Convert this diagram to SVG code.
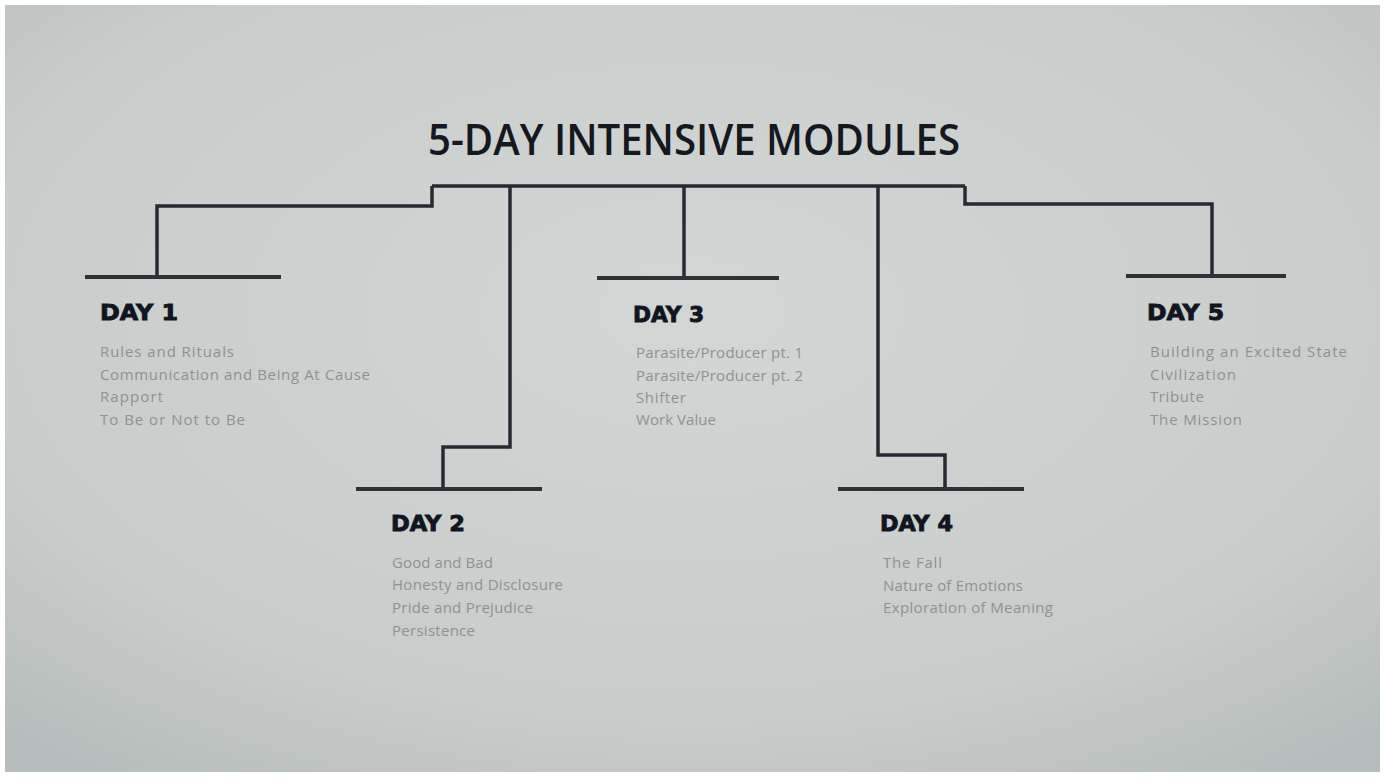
<svg xmlns="http://www.w3.org/2000/svg" width="1384" height="778" viewBox="0 0 1384 778">
<defs>
<radialGradient id="bg" cx="0.5" cy="0.4" r="0.75">
<stop offset="0" stop-color="#d2d6d4"/>
<stop offset="0.7" stop-color="#c8cdcb"/>
<stop offset="1" stop-color="#b6bcbb"/>
</radialGradient>
<style>
.ln{fill:none;stroke:#262a33;stroke-width:3.5;stroke-linejoin:miter;stroke-linecap:butt}
.bar{stroke:#2e3236;stroke-width:4}
.day{font-family:"DejaVu Sans","Liberation Sans",sans-serif;font-weight:900;font-size:22px;fill:#111522;stroke:#111522;stroke-width:0.9}
.it{font-family:"Open Sans","Noto Sans",sans-serif;font-size:15px;fill:#8d9294}
.title{font-family:"Open Sans","Noto Sans",sans-serif;font-weight:600;font-size:44px;fill:#15181f}
</style>
</defs>
<rect width="1384" height="778" fill="#ffffff"/>
<rect x="5" y="5" width="1375" height="767" fill="url(#bg)"/>
<text class="title" x="428" y="155" textLength="532" lengthAdjust="spacingAndGlyphs">5-DAY INTENSIVE MODULES</text>
<g id="connectors">
<path class="ln" d="M432,186 H965"/>
<path class="ln" d="M432,186 V206 H157 V276"/>
<path class="ln" d="M510,186 V447 H443 V489"/>
<path class="ln" d="M684,186 V278"/>
<path class="ln" d="M878,186 V455 H945 V489"/>
<path class="ln" d="M965,186 V204 H1212 V275"/>
</g>
<g id="day1">
<line class="bar" x1="85" y1="277" x2="281" y2="277"/>
<text class="day" x="100" y="320" textLength="78" lengthAdjust="spacingAndGlyphs">DAY 1</text>
<text class="it" x="100" y="357" textLength="134">Rules and Rituals</text>
<text class="it" x="100" y="380" textLength="270">Communication and Being At Cause</text>
<text class="it" x="100" y="402" textLength="63">Rapport</text>
<text class="it" x="100" y="425" textLength="145">To Be or Not to Be</text>
</g>
<g id="day2">
<line class="bar" x1="356" y1="489" x2="542" y2="489"/>
<text class="day" x="391" y="531" textLength="74" lengthAdjust="spacingAndGlyphs">DAY 2</text>
<text class="it" x="392" y="568" textLength="101">Good and Bad</text>
<text class="it" x="392" y="590" textLength="171">Honesty and Disclosure</text>
<text class="it" x="392" y="613" textLength="141">Pride and Prejudice</text>
<text class="it" x="392" y="636" textLength="83">Persistence</text>
</g>
<g id="day3">
<line class="bar" x1="597" y1="278" x2="779" y2="278"/>
<text class="day" x="633" y="322" textLength="71" lengthAdjust="spacingAndGlyphs">DAY 3</text>
<text class="it" x="636" y="358" textLength="167">Parasite/Producer pt. 1</text>
<text class="it" x="636" y="381" textLength="167">Parasite/Producer pt. 2</text>
<text class="it" x="636" y="403" textLength="50">Shifter</text>
<text class="it" x="636" y="425" textLength="80">Work Value</text>
</g>
<g id="day4">
<line class="bar" x1="838" y1="489" x2="1024" y2="489"/>
<text class="day" x="880" y="531" textLength="73" lengthAdjust="spacingAndGlyphs">DAY 4</text>
<text class="it" x="883" y="568" textLength="59">The Fall</text>
<text class="it" x="883" y="591" textLength="140">Nature of Emotions</text>
<text class="it" x="883" y="613" textLength="170">Exploration of Meaning</text>
</g>
<g id="day5">
<line class="bar" x1="1126" y1="276" x2="1286" y2="276"/>
<text class="day" x="1147" y="320" textLength="77" lengthAdjust="spacingAndGlyphs">DAY 5</text>
<text class="it" x="1150" y="357" textLength="197">Building an Excited State</text>
<text class="it" x="1150" y="380" textLength="86">Civilization</text>
<text class="it" x="1150" y="402" textLength="54">Tribute</text>
<text class="it" x="1150" y="425" textLength="92">The Mission</text>
</g>
</svg>
